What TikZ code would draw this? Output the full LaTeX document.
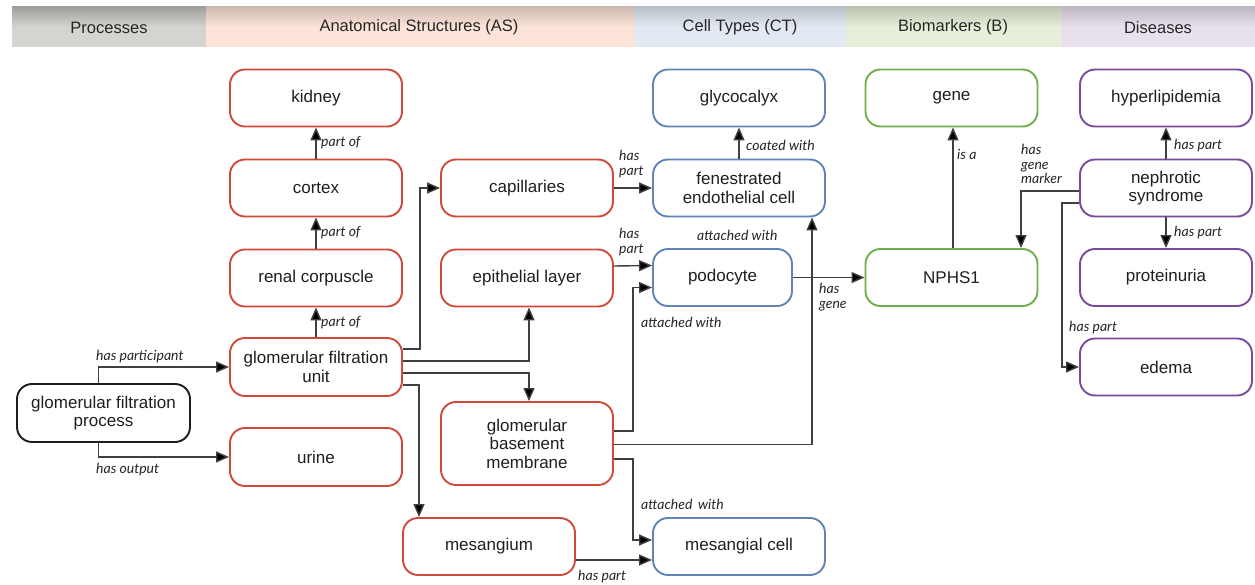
\documentclass[tikz,border=0pt]{standalone}
\usepackage{fontspec}
\setmainfont{Liberation Sans}
\newfontfamily\lblfont{Lato}
\usetikzlibrary{arrows.meta}
\definecolor{nred}{HTML}{D0493A}
\definecolor{nblue}{HTML}{5F84B5}
\definecolor{ngreen}{HTML}{6DB04A}
\definecolor{npurple}{HTML}{7A4A9B}
\definecolor{nblack}{HTML}{1E1E1E}
\definecolor{linec}{HTML}{404040}
\definecolor{hgray}{HTML}{D6D4D1}
\definecolor{hred}{HTML}{FCE4D9}
\definecolor{hblue}{HTML}{E2E9F2}
\definecolor{hgreen}{HTML}{E7EED9}
\definecolor{hpurple}{HTML}{E9E0EE}
\tikzset{
  box/.style={draw, rounded corners=15pt, minimum width=172pt, minimum height=57pt,
    line width=1.9pt, fill=white, align=center, text=black!88, inner sep=2pt,
    font=\fontsize{17}{18.5}\selectfont},
  asbox/.style={box, draw=nred},
  ctbox/.style={box, draw=nblue},
  bbox/.style={box, draw=ngreen},
  dbox/.style={box, draw=npurple},
  pbox/.style={box, draw=nblack},
  arr/.style={draw=linec, line width=1.4pt, -{Triangle[length=13pt,width=11pt,fill=black]}},
  lbl/.style={font=\lblfont\itshape\fontsize{14}{14.5}\selectfont, text=black!85,
    inner sep=0pt, align=left, anchor=west},
  hdr/.style={font=\fontsize{16.5}{18}\selectfont, text=black!85},
}
\begin{document}
\begin{tikzpicture}[x=1pt,y=-1pt]
\useasboundingbox (0,0) rectangle (1255,585);
\fill[white] (0,0) rectangle (1255,585);
% header
\shade[top color=hgray!75!black, bottom color=hgray, middle color=hgray] (12,7) rectangle (206,47);
\shade[top color=hred!82!black, bottom color=hred, middle color=hred] (206,7) rectangle (634,47);
\shade[top color=hblue!82!black, bottom color=hblue, middle color=hblue] (634,7) rectangle (846,47);
\shade[top color=hgreen!82!black, bottom color=hgreen, middle color=hgreen] (846,7) rectangle (1061,47);
\shade[top color=hpurple!82!black, bottom color=hpurple, middle color=hpurple] (1061,7) rectangle (1255,47);
\node[hdr] (h1) at (109,27.5) {Processes};
\node[hdr] (h2) at (419,27.5) {Anatomical Structures (AS)};
\node[hdr] (h3) at (740,27.5) {Cell Types (CT)};
\node[hdr] (h4) at (953,27.5) {Biomarkers (B)};
\node[hdr] (h5) at (1158,27.5) {Diseases};
% nodes
\node[pbox, minimum width=173pt, minimum height=58pt] (gfp) at (103.5,413) {glomerular filtration\\process};
\node[asbox] (kidney) at (316,98) {kidney};
\node[asbox] (cortex) at (316,188) {cortex};
\node[asbox] (rc) at (316,278) {renal corpuscle};
\node[asbox, minimum height=58pt] (gfu) at (316,367) {glomerular filtration\\unit};
\node[asbox, minimum height=58pt] (urine) at (316,457) {urine};
\node[asbox] (caps) at (527,188) {capillaries};
\node[asbox] (epi) at (527,278) {epithelial layer};
\node[asbox, minimum height=83pt] (gbm) at (527,443.5) {glomerular\\basement\\membrane};
\node[asbox] (mes) at (489,546.5) {mesangium};
\node[ctbox] (glyco) at (739,98) {glycocalyx};
\node[ctbox] (fen) at (739,188) {fenestrated\\endothelial cell};
\node[ctbox, minimum width=139pt] (podo) at (722.5,277.5) {podocyte};
\node[ctbox] (mcell) at (739,546.5) {mesangial cell};
\node[bbox] (gene) at (951.5,98) {gene};
\node[bbox] (nphs) at (951.5,277.5) {NPHS1};
\node[dbox] (hyper) at (1166,98) {hyperlipidemia};
\node[dbox] (neph) at (1166,188) {nephrotic\\syndrome};
\node[dbox] (prot) at (1166,277.5) {proteinuria};
\node[dbox] (edema) at (1166,367) {edema};
% connectors
\draw[arr] (cortex.north) -- (kidney.south);
\draw[arr] (rc.north) -- (cortex.south);
\draw[arr] (gfu.north) -- (rc.south);
\draw[arr] ([xshift=-5pt]gfp.north) |- (gfu.west);
\draw[arr] ([xshift=-5pt]gfp.south) |- (urine.west);
\draw[arr] ([yshift=18pt]gfu.east) -- ++(17,0) |- (caps.west);
\draw[arr] ([yshift=6pt]gfu.east) -| ([xshift=2pt]epi.south);
\draw[arr] ([yshift=-6pt]gfu.east) -| ([xshift=2pt]gbm.north);
\draw[arr] ([yshift=-18pt]gfu.east) -| ([xshift=-70pt]mes.north);
\draw[arr] (caps.east) -- (fen.west);
\draw[arr] ([yshift=12pt]epi.east) -- ([yshift=12pt]podo.west);
\draw[arr] (fen.north) -- (glyco.south);
\draw[arr] ([yshift=12.5pt]gbm.east) -- ++(19,0) |- ([yshift=-10pt]podo.west);
\draw[arr] ([yshift=-1pt]gbm.east) -| ([xshift=73pt]fen.south);
\draw[arr] ([yshift=-15.5pt]gbm.east) -- ++(19,0) |- ([yshift=6.5pt]mcell.west);
\draw[arr] ([yshift=-13.5pt]mes.east) -- ([yshift=-13.5pt]mcell.west);
\draw[arr] (podo.east) -- (nphs.west);
\draw[arr] ([xshift=1.5pt]nphs.north) -- ([xshift=1.5pt]gene.south);
\draw[arr] ([yshift=-3pt]neph.west) -| ([xshift=69.5pt]nphs.north);
\draw[arr] (neph.north) -- (hyper.south);
\draw[arr] (neph.south) -- (prot.north);
\draw[arr] ([yshift=-15pt]neph.west) -- ++(-17,0) |- (edema.west);
% labels
\node[lbl] (l1) at (321,143) {part of};
\node[lbl] (l2) at (321,233) {part of};
\node[lbl] (l3) at (321,323) {part of};
\node[lbl] (l4) at (96,357) {has participant};
\node[lbl] (l5) at (96,470) {has output};
\node[lbl] (l6) at (619,164) {has\\part};
\node[lbl] (l7) at (746,145) {coated with};
\node[lbl] (l8) at (619,242) {has\\part};
\node[lbl] (l9) at (697,235) {attached with};
\node[lbl] (l10) at (641,322) {attached with};
\node[lbl] (l11) at (819,297) {has\\gene};
\node[lbl] (l12) at (957,154) {is a};
\node[lbl] (l13) at (1021,164) {has\\gene\\marker};
\node[lbl] (l14) at (1174,146) {has part};
\node[lbl] (l15) at (1174,233) {has part};
\node[lbl] (l16) at (1069,328) {has part};
\node[lbl] (l17) at (641,504) {attached\, with};
\node[lbl] (l18) at (578,577) {has part};
\end{tikzpicture}
\end{document}
